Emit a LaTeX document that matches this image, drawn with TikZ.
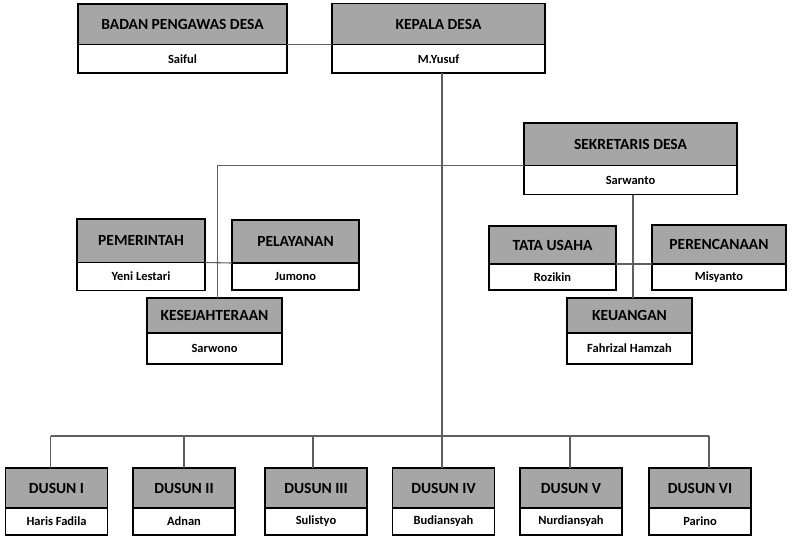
\documentclass[tikz,border=0pt]{standalone}
\usepackage{fontspec}
\setmainfont{Carlito}
\usepackage{tikz}
\usetikzlibrary{positioning}
\definecolor{headgray}{RGB}{166,166,166}
\definecolor{linegray}{RGB}{95,95,95}

\begin{document}
\begin{tikzpicture}[x=1pt, y=-1pt,
        head/.style={rectangle, draw, line width=1.6pt, fill=headgray, inner sep=0pt, outer sep=0pt, minimum height=40pt, font=\fontsize{15.5}{17}\selectfont\bfseries},
        person/.style={rectangle, draw, line width=1.6pt, fill=white, inner sep=0pt, outer sep=0pt, minimum height=28pt, font=\fontsize{12.5}{14}\selectfont\bfseries},
        link/.style={draw=linegray, line width=1.1pt}
    ]
        \useasboundingbox (0,0) rectangle (794,540);

        \node[head, minimum width=209pt, minimum height=40.5pt] (bpd) at (182.5,24.25) {BADAN PENGAWAS DESA};
        \node[person, minimum width=209pt, minimum height=28.5pt, below=0pt of bpd] (bpdN) {Saiful};
        \node[head, minimum width=213pt, minimum height=41pt] (kepala) at (438.5,24) {KEPALA DESA};
        \node[person, minimum width=213pt, minimum height=28.5pt, below=0pt of kepala] (kepalaN) {M.Yusuf};

        \node[head, minimum width=213pt, minimum height=42.5pt] (sek) at (630.5,144.25) {SEKRETARIS DESA};
        \node[person, minimum width=213pt, minimum height=29pt, below=0pt of sek] (sekN) {Sarwanto};

        \node[head, minimum width=128pt, minimum height=43.5pt] (pem) at (141,240.75) {PEMERINTAH};
        \node[person, minimum width=128pt, below=0pt of pem] (pemN) {Yeni Lestari};
        \node[head, minimum width=127pt, minimum height=43pt] (pel) at (295.5,241.5) {PELAYANAN};
        \node[person, minimum width=127pt, minimum height=27pt, below=0pt of pel] (pelN) {Jumono};
        \node[head, minimum width=135pt, minimum height=35pt] (kes) at (214.5,315.5) {KESEJAHTERAAN};
        \node[person, minimum width=135pt, minimum height=31pt, below=0pt of kes] (kesN) {Sarwono};

        \node[head, minimum width=127pt, minimum height=38pt] (tata) at (552.5,245) {TATA USAHA};
        \node[person, minimum width=127pt, minimum height=26pt, below=0pt of tata] (tataN) {Rozikin};
        \node[head, minimum width=134pt, minimum height=39pt] (per) at (719,244.5) {PERENCANAAN};
        \node[person, minimum width=134pt, minimum height=26pt, below=0pt of per] (perN) {Misyanto};
        \node[head, minimum width=125pt, minimum height=35pt] (keu) at (629.5,315.5) {KEUANGAN};
        \node[person, minimum width=125pt, minimum height=31pt, below=0pt of keu] (keuN) {Fahrizal Hamzah};

        % dusun row
        \coordinate (bus) at (0,436);
        \foreach \i/\x/\dx/\lab/\nm in {1/56.5/-6/I/Haris Fadila, 2/184/0/II/Adnan, 3/316/-3/III/Sulistyo, 4/443.5/-1.5/IV/Budiansyah, 5/571/-1/V/Nurdiansyah, 6/700/9/VI/Parino} {
            \node[head, minimum width=102pt] (dus\i) at (\x,488) {DUSUN \lab};
            \node[person, minimum width=102pt, minimum height=27pt, below=0pt of dus\i] (dusN\i) {\nm};
            \coordinate (drop\i) at ([xshift=\dx pt]dus\i.north);
            \draw[link] (drop\i) -- (drop\i |- bus);
        }

        \draw[link] (drop1 |- bus) -- (drop6 |- bus);
        \draw[link] (bpd.south east) -- (kepala.south west);
        \draw[link] (drop4 |- kepalaN.south) -- (drop4 |- bus);
        \draw[link] (sek.south west) -| ([xshift=3pt]kes.north);
        \draw[link] (pem.south east) -- (pel.south west);
        \draw[link] ([xshift=2.5pt]sekN.south) -- ([xshift=2.5pt]sekN.south |- keu.north);
        \draw[link] (tata.south east) -- (per.south west);
    \end{tikzpicture}
\end{document}
